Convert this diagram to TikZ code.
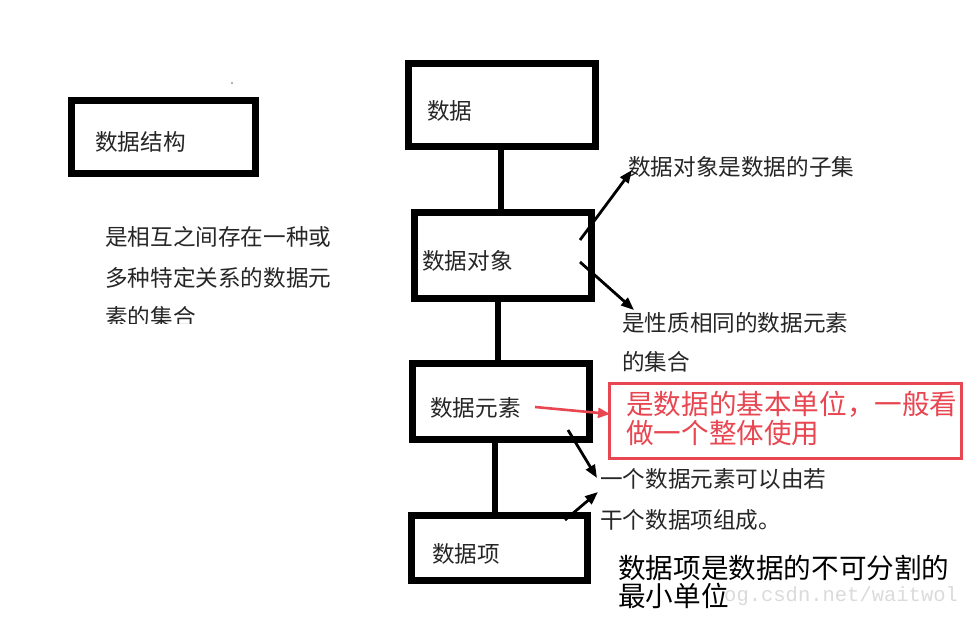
\documentclass[tikz,border=0pt]{standalone}
\usepackage{fontspec}
\newfontfamily\cjk{Noto Sans CJK SC}
\newfontfamily\wm{Liberation Mono}
\usetikzlibrary{arrows.meta,calc}
\definecolor{redbox}{RGB}{232,70,80}
\tikzset{
  box/.style={draw=black,line width=7pt,rectangle,inner sep=0pt},
  lbl/.style={anchor=west,inner sep=0pt,font=\cjk\fontsize{22.6}{26}\selectfont,text=black!85},
  big/.style={anchor=west,inner sep=0pt,font=\cjk\fontsize{27.6}{30}\selectfont},
  link/.style={line width=6pt,black},
  pointer/.style={line width=2.8pt,black,-{Triangle[length=13pt,width=10pt]}},
  redpointer/.style={line width=2.6pt,redbox,-{Triangle[length=12pt,width=10pt]}}
}
\begin{document}
\begin{tikzpicture}[x=1pt,y=-1pt]
\useasboundingbox (0,0) rectangle (968,617);
\fill[white] (0,0) rectangle (968,617);

% watermark
\node[anchor=west,inner sep=0pt,font=\wm\fontsize{20.5}{24}\selectfont,text=black!14] (wmk) at (724,596) {og.csdn.net/waitwol};

% left part
\fill[black!60] (232,83) circle (0.9);
\node[box,minimum width=184pt,minimum height=73pt] (ds) at (163.5,137) {};
\node[lbl] (dst) at (95,142) {数据结构};
\node[lbl] (l1) at (105,237) {是相互之间存在一种或};
\node[lbl] (l2) at (105,278) {多种特定关系的数据元};
\begin{scope}
\clip (0,0) rectangle (968,323);
\node[lbl] (l3) at (105,317) {素的集合};
\end{scope}

% chain of boxes
\node[box,minimum width=187pt,minimum height=83pt] (b1) at (502,105) {};
\node[box,minimum width=177pt,minimum height=86pt] (b2) at (503,255.5) {};
\node[box,minimum width=177pt,minimum height=76pt] (b3) at (501,401.5) {};
\node[box,minimum width=176pt,minimum height=65pt] (b4) at (499.5,548) {};
\node[lbl] (t1) at (427,111) {数据};
\node[lbl] (t2) at (422,261) {数据对象};
\node[lbl] (t3) at (430,408) {数据元素};
\node[lbl] (t4) at (432,554) {数据项};

\draw[link] ([xshift=-1pt]b1.south) -- ([xshift=-1pt]b1.south |- b2.north);
\draw[link] ([xshift=-5pt]b2.south) -- ([xshift=-5pt]b2.south |- b3.north);
\draw[link] ([xshift=-6pt]b3.south) -- ([xshift=-6pt]b3.south |- b4.north);

% annotations
\node[lbl] (a1) at (628,167) {数据对象是数据的子集};
\node[lbl] (a2) at (622,323) {是性质相同的数据元素};
\node[lbl] (a2b) at (622,362) {的集合};
\node[lbl] (a3) at (600,479) {一个数据元素可以由若};
\node[lbl] (a3b) at (600,520) {干个数据项组成。};

\node[draw=redbox,line width=3pt,minimum width=352pt,minimum height=75pt,inner sep=0pt] (rb) at (785.5,421) {};
\node[big,text=redbox] (r1) at (626,404) {是数据的基本单位，一般看};
\node[big,text=redbox] (r2) at (626,433) {做一个整体使用};

\node[big,text=black] (c1) at (618,568) {数据项是数据的不可分割的};
\node[big,text=black] (c2) at (618,596) {最小单位};

% arrows
\coordinate (p1s) at (580,240);
\coordinate (p1e) at (632,170);
\coordinate (p2s) at (580,262);
\coordinate (p2e) at (634,310);
\coordinate (p3s) at (568,430);
\coordinate (p3e) at (597,478);
\coordinate (p4s) at (565,520);
\coordinate (p4e) at (598,492);
\coordinate (p5s) at (535,407);
\coordinate (p5e) at (610,414);
\draw[pointer] (p1s) -- (p1e);
\draw[pointer] (p2s) -- (p2e);
\draw[pointer] (p3s) -- (p3e);
\draw[pointer] (p4s) -- (p4e);
\draw[redpointer] (p5s) -- (p5e);
\end{tikzpicture}
\end{document}
